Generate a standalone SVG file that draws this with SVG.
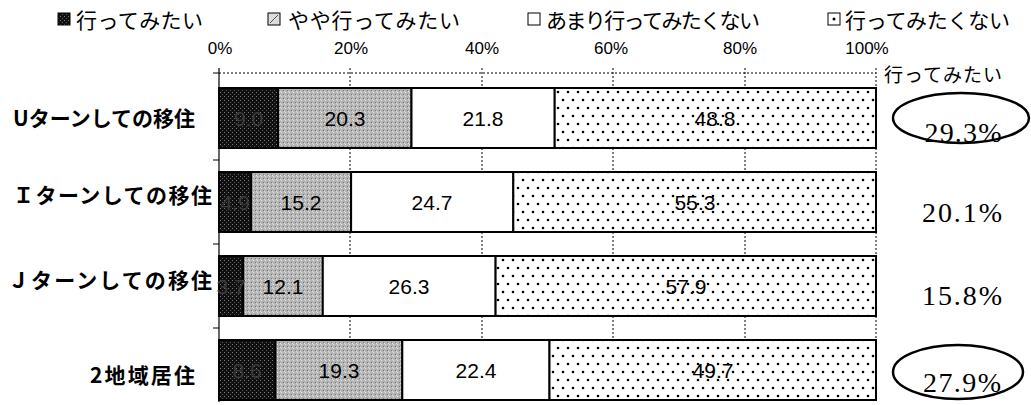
<svg xmlns="http://www.w3.org/2000/svg" width="1031" height="405" viewBox="0 0 1031 405">
<defs>
<pattern id="pDark" width="4" height="4" patternUnits="userSpaceOnUse">
<rect width="4" height="4" fill="#111"/>
<rect x="0" y="0" width="1" height="1" fill="#777"/>
<rect x="2" y="2" width="1" height="1" fill="#555"/>
</pattern>
<pattern id="pLight" width="4" height="4" patternUnits="userSpaceOnUse">
<rect width="4" height="4" fill="#b4b4b4"/>
<rect x="1" y="0" width="1" height="1" fill="#e8e8e8"/>
<rect x="3" y="2" width="1" height="1" fill="#777"/>
<rect x="0" y="3" width="1" height="1" fill="#ddd"/>
</pattern>
<pattern id="pDots" width="20" height="16" patternUnits="userSpaceOnUse">
<rect width="20" height="16" fill="#fff"/>
<circle cx="3" cy="4" r="1.3" fill="#000"/>
<circle cx="13" cy="4" r="1.3" fill="#000"/>
<circle cx="8" cy="12" r="1.3" fill="#000"/>
<circle cx="18" cy="12" r="1.3" fill="#000"/>
</pattern>
<style>
.jp{font-family:"Noto Sans CJK JP","Noto Sans",sans-serif;fill:#000}
.leg{font-size:21px}
.ax{font-family:"Liberation Sans","Noto Sans",sans-serif;font-size:17px;text-anchor:middle}
.cat{font-size:21px;font-weight:bold}
.val{font-family:"Liberation Sans","Noto Sans",sans-serif;font-size:21px;text-anchor:middle;fill:#000}
.vdark{fill:#3a3a3a}
.pct{font-family:"Liberation Serif","Noto Serif CJK JP",serif;font-size:28px;text-anchor:middle;fill:#000}
.seg{stroke:#000;stroke-width:2}
.grid{stroke:#000;stroke-width:1;stroke-dasharray:2 2}
.oval{fill:none;stroke:#000;stroke-width:2.5}
</style>
</defs>

<g id="legend">
<rect x="58" y="13" width="12" height="12" fill="url(#pDark)" stroke="#000"/>
<text class="jp leg" x="76" y="28" textLength="127">行ってみたい</text>
<rect x="268" y="13" width="12" height="12" fill="#ddd" stroke="#000"/>
<line x1="270" y1="23" x2="278" y2="15" stroke="#555"/>
<text class="jp leg" x="288" y="28" textLength="172">やや行ってみたい</text>
<rect x="528" y="13" width="12" height="12" fill="#fff" stroke="#000"/>
<text class="jp leg" x="546" y="28" textLength="214">あまり行ってみたくない</text>
<rect x="828" y="13" width="12" height="12" fill="#fff" stroke="#000"/>
<circle cx="834" cy="19" r="1.5" fill="#000"/>
<text class="jp leg" x="845" y="28" textLength="165">行ってみたくない</text>
</g>

<g id="axis">
<text class="ax" x="220" y="54">0%</text>
<text class="ax" x="351" y="54">20%</text>
<text class="ax" x="482" y="54">40%</text>
<text class="ax" x="611" y="54">60%</text>
<text class="ax" x="740" y="54">80%</text>
<text class="ax" x="867" y="54">100%</text>
<line class="grid" x1="219" y1="73" x2="876" y2="73"/>
<line class="grid" x1="350" y1="68" x2="350" y2="400"/>
<line class="grid" x1="482" y1="68" x2="482" y2="400"/>
<line class="grid" x1="613" y1="68" x2="613" y2="400"/>
<line class="grid" x1="745" y1="68" x2="745" y2="400"/>
<line class="grid" x1="876" y1="68" x2="876" y2="400"/>
<line x1="219" y1="68" x2="219" y2="402" stroke="#000" stroke-width="1.2"/>
<line x1="213" y1="73" x2="219" y2="73" stroke="#000"/>
<line x1="213" y1="160" x2="219" y2="160" stroke="#000"/>
<line x1="213" y1="244" x2="219" y2="244" stroke="#000"/>
<line x1="213" y1="328" x2="219" y2="328" stroke="#000"/>
</g>

<g id="row1">
<text class="jp cat" x="13" y="126" textLength="182">Uターンしての移住</text>
<rect class="seg" x="219" y="88" width="59" height="60" fill="url(#pDark)"/>
<rect class="seg" x="278" y="88" width="133.5" height="60" fill="url(#pLight)"/>
<rect class="seg" x="411.5" y="88" width="143.2" height="60" fill="#fff"/>
<rect class="seg" x="554.7" y="88" width="321.3" height="60" fill="url(#pDots)"/>
<text class="val vdark" x="248.5" y="126">9.0</text>
<text class="val" x="345" y="126">20.3</text>
<text class="val" x="483" y="126">21.8</text>
<text class="val" x="715" y="126">48.8</text>
</g>

<g id="row2">
<text class="jp cat" x="13" y="203" textLength="199">Ｉターンしての移住</text>
<rect class="seg" x="219" y="172" width="32.2" height="60" fill="url(#pDark)"/>
<rect class="seg" x="251.2" y="172" width="99.9" height="60" fill="url(#pLight)"/>
<rect class="seg" x="351.1" y="172" width="162.2" height="60" fill="#fff"/>
<rect class="seg" x="513.3" y="172" width="362.7" height="60" fill="url(#pDots)"/>
<text class="val vdark" x="235" y="210">4.9</text>
<text class="val" x="301" y="210">15.2</text>
<text class="val" x="432" y="210">24.7</text>
<text class="val" x="695" y="210">55.3</text>
</g>

<g id="row3">
<text class="jp cat" x="8" y="288" textLength="204">Ｊターンしての移住</text>
<rect class="seg" x="219" y="256" width="24.3" height="60" fill="url(#pDark)"/>
<rect class="seg" x="243.3" y="256" width="79.5" height="60" fill="url(#pLight)"/>
<rect class="seg" x="322.8" y="256" width="172.8" height="60" fill="#fff"/>
<rect class="seg" x="495.6" y="256" width="380.4" height="60" fill="url(#pDots)"/>
<text class="val vdark" x="231" y="294">3.7</text>
<text class="val" x="283" y="294">12.1</text>
<text class="val" x="409" y="294">26.3</text>
<text class="val" x="686" y="294">57.9</text>
</g>

<g id="row4">
<text class="jp cat" x="90" y="383" textLength="105">2地域居住</text>
<rect class="seg" x="219" y="340" width="56.5" height="60" fill="url(#pDark)"/>
<rect class="seg" x="275.5" y="340" width="126.8" height="60" fill="url(#pLight)"/>
<rect class="seg" x="402.3" y="340" width="147.2" height="60" fill="#fff"/>
<rect class="seg" x="549.5" y="340" width="326.5" height="60" fill="url(#pDots)"/>
<text class="val vdark" x="247" y="378">8.6</text>
<text class="val" x="339" y="378">19.3</text>
<text class="val" x="476" y="378">22.4</text>
<text class="val" x="713" y="378">49.7</text>
</g>

<g id="summary">
<text class="jp" x="884" y="82" font-size="19" textLength="118">行ってみたい</text>
<ellipse class="oval" cx="961" cy="118" rx="68" ry="25"/>
<text class="pct" x="963" y="142" textLength="77">29.3%</text>
<text class="pct" x="962" y="222" textLength="80">20.1%</text>
<text class="pct" x="962" y="305" textLength="80">15.8%</text>
<ellipse class="oval" cx="958" cy="372" rx="65" ry="27"/>
<text class="pct" x="962" y="392" textLength="78">27.9%</text>
</g>
</svg>
